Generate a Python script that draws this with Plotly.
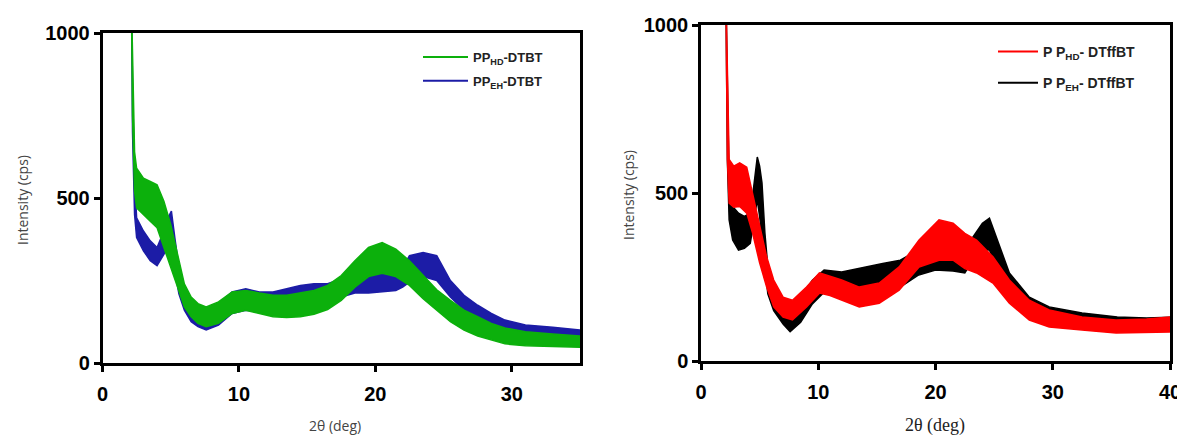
import plotly.graph_objects as go

# ---------------- Left panel: DTBT polymers (envelope of the noisy XRD band) ----------------
hd_dtbt_x = [2.12, 2.2, 2.35, 2.5, 3.0, 3.5, 4.0, 4.5, 5.0, 5.5, 6.0, 6.5, 7.0, 7.6, 8.5, 9.5,
             10.5, 11.5, 12.5, 13.5, 14.5, 15.5, 16.5, 17.5, 18.5, 19.5, 20.5, 21.5, 22.5, 23.5,
             24.5, 25.5, 26.5, 27.5, 28.5, 29.5, 31.0, 33.0, 35.0]
hd_dtbt_hi = [1100, 900, 640, 590, 560, 550, 540, 490, 420, 330, 240, 200, 180, 170, 185, 215,
              220, 212, 205, 205, 212, 220, 235, 265, 310, 350, 365, 345, 310, 265,
              222, 190, 160, 140, 120, 106, 95, 88, 82]
hd_dtbt_lo = [1100, 750, 520, 470, 450, 430, 410, 350, 290, 230, 170, 140, 120, 110, 120, 150,
              160, 150, 140, 138, 140, 148, 162, 190, 230, 262, 272, 262, 235, 195,
              160, 125, 100, 82, 70, 58, 52, 50, 48]

eh_dtbt_x = [2.12, 2.2, 2.35, 2.5, 3.0, 3.5, 4.0, 4.5, 4.8, 5.05, 5.3, 5.6, 6.0, 6.5, 7.0, 7.6,
             8.5, 9.5, 10.5, 11.5, 12.5, 13.5, 14.5, 15.5, 16.5, 17.5, 18.5, 19.5, 20.5, 21.5,
             22.0, 22.5, 23.5, 24.5, 25.5, 26.5, 27.5, 28.5, 29.5, 31.0, 33.0, 35.0]
eh_dtbt_hi = [1100, 850, 560, 440, 400, 370, 350, 400, 440, 460, 380, 290, 220, 185, 165, 160,
              180, 215, 225, 215, 215, 225, 235, 240, 240, 255, 275, 280, 282, 282,
              290, 325, 335, 325, 250, 205, 175, 150, 130, 115, 108, 100]
eh_dtbt_lo = [1100, 700, 450, 380, 340, 310, 295, 330, 350, 340, 280, 210, 160, 125, 110, 100,
              115, 150, 160, 155, 150, 150, 155, 165, 180, 200, 212, 212, 215, 220,
              230, 245, 262, 250, 200, 160, 130, 105, 85, 70, 60, 55]

# ---------------- Right panel: DTffBT polymers ----------------
hd_dtffbt_x = [2.12, 2.25, 2.4, 2.8, 3.3, 3.9, 4.4, 5.0, 5.6, 6.2, 7.0, 7.8, 9.0, 10.1, 11.0,
               12.0, 13.5, 15.2, 16.9, 18.6, 20.3, 21.5, 22.5, 23.5, 24.9, 26.3, 28.0, 29.7,
               32.5, 35.4, 38.0, 40.0]
hd_dtffbt_hi = [1100, 800, 600, 580, 590, 577, 500, 400, 310, 241, 190, 181, 220, 262, 252,
                241, 220, 232, 280, 360, 420, 410, 380, 360, 310, 241, 181, 152,
                131, 122, 125, 131]
hd_dtffbt_lo = [1100, 600, 470, 458, 460, 440, 381, 292, 220, 161, 131, 122, 161, 202, 195,
                181, 161, 172, 211, 280, 300, 300, 275, 262, 232, 172, 122, 101,
                92, 83, 85, 86]

eh_dtffbt_x = [2.12, 2.25, 2.4, 2.7, 3.2, 3.7, 4.2, 4.5, 4.8, 5.0, 5.2, 5.45, 5.7, 6.2, 7.0,
               7.6, 8.5, 9.5, 10.5, 12.0, 14.0, 15.5, 17.0, 18.5, 20.0, 21.5, 22.5, 23.2,
               24.0, 24.6, 25.4, 26.3, 28.0, 29.7, 32.5, 35.5, 38.0, 40.0]
eh_dtffbt_hi = [1100, 800, 520, 460, 440, 430, 440, 520, 607, 580, 530, 381, 280, 220, 175,
                160, 190, 240, 271, 265, 280, 290, 300, 330, 340, 335, 330, 369,
                410, 425, 351, 262, 190, 161, 143, 131, 128, 130]
eh_dtffbt_lo = [1100, 600, 420, 360, 330, 335, 350, 420, 480, 430, 380, 280, 200, 150, 110,
                87, 115, 170, 205, 195, 195, 205, 220, 255, 271, 268, 262, 300,
                330, 330, 271, 211, 143, 122, 105, 95, 95, 95]

names = {
    "hd_dtbt": "<b>PP<sub>HD</sub>-DTBT</b>",
    "eh_dtbt": "<b>PP<sub>EH</sub>-DTBT</b>",
    "hd_dtffbt": "<b>P P<sub>HD</sub>- DTffBT</b>",
    "eh_dtffbt": "<b>P P<sub>EH</sub>- DTffBT</b>",
}
colors = {"hd_dtbt": "#0cb00c", "eh_dtbt": "#1c1ca6", "hd_dtffbt": "#ff0000", "eh_dtffbt": "#000000"}

fig = go.Figure()


def band(x, hi, lo, color, xa, ya):
    fig.add_trace(go.Scatter(
        x=list(x) + list(x)[::-1], y=list(hi) + list(lo)[::-1],
        mode="lines", fill="toself", fillcolor=color,
        line=dict(color=color, width=1.5), showlegend=False, hoverinfo="skip",
        xaxis=xa, yaxis=ya))


# draw order: blue under green, black under red
band(eh_dtbt_x, eh_dtbt_hi, eh_dtbt_lo, colors["eh_dtbt"], "x", "y")
band(hd_dtbt_x, hd_dtbt_hi, hd_dtbt_lo, colors["hd_dtbt"], "x", "y")
band(eh_dtffbt_x, eh_dtffbt_hi, eh_dtffbt_lo, colors["eh_dtffbt"], "x2", "y2")
band(hd_dtffbt_x, hd_dtffbt_hi, hd_dtffbt_lo, colors["hd_dtffbt"], "x2", "y2")

# legend entries
for key, leg, xa, ya in [("hd_dtbt", "legend", "x", "y"), ("eh_dtbt", "legend", "x", "y"),
                         ("hd_dtffbt", "legend2", "x2", "y2"), ("eh_dtffbt", "legend2", "x2", "y2")]:
    fig.add_trace(go.Scatter(x=[None], y=[None], mode="lines", name=names[key],
                             line=dict(color=colors[key], width=2), legend=leg,
                             legendgroup=key, xaxis=xa, yaxis=ya))

# page has an 8px body margin; figure coordinates = page pixels - 8
W, H = 1177, 430
tickfont = dict(family="Liberation Sans, Arial", size=20, color="black", weight="bold")
axis_common = dict(showline=True, linecolor="black", linewidth=2.5, mirror=True,
                   ticks="outside", ticklen=6, tickwidth=2.5, tickcolor="black",
                   showgrid=False, zeroline=False, tickfont=tickfont, automargin=False)


def ann(text, x, y, font, angle=0):
    return dict(text=text, x=x / W, y=(H - y) / H, xref="paper", yref="paper",
                xanchor="center", yanchor="middle", textangle=angle, showarrow=False, font=font)


sans_title = dict(family="Open Sans", size=14, color="#444")

fig.update_layout(
    width=W, height=H, margin=dict(l=0, r=0, t=0, b=0, autoexpand=False),
    plot_bgcolor="white", paper_bgcolor="white",
    xaxis=dict(domain=[94.5 / W, 572 / W], range=[0, 35], tickvals=[0, 10, 20, 30], anchor="y",
               ticklabelstandoff=5, **axis_common),
    yaxis=dict(domain=[(H - 355) / H, (H - 25) / H], range=[0, 1000], tickvals=[0, 500, 1000], anchor="x", **axis_common),
    xaxis2=dict(domain=[693 / W, 1162 / W], range=[0, 40], tickvals=[0, 10, 20, 30, 40], anchor="y2",
                ticklabelstandoff=5, **axis_common),
    yaxis2=dict(domain=[(H - 353) / H, (H - 17) / H], range=[0, 1000], tickvals=[0, 500, 1000], anchor="x2", **axis_common),
    legend=dict(x=410 / W, y=(H - 34) / H, xanchor="left", yanchor="top", bgcolor="rgba(0,0,0,0)",
                itemwidth=45, font=dict(family="Liberation Sans, Arial", size=13, color="#222"), tracegroupgap=4),
    legend2=dict(x=985 / W, y=(H - 28) / H, xanchor="left", yanchor="top", bgcolor="rgba(0,0,0,0)",
                 itemwidth=40, font=dict(family="Liberation Sans, Arial", size=14, color="#222"), tracegroupgap=10),
    annotations=[
        ann("Intensity (cps)", 14, 192, sans_title, -90),
        ann("2θ (deg)", 327, 417, sans_title),
        ann("Intensity (cps)", 620, 187, sans_title, -90),
        ann("2θ (deg)", 927, 417, dict(family="Liberation Serif, Times New Roman", size=18, color="#222")),
    ],
)

fig.write_html("out.html")
